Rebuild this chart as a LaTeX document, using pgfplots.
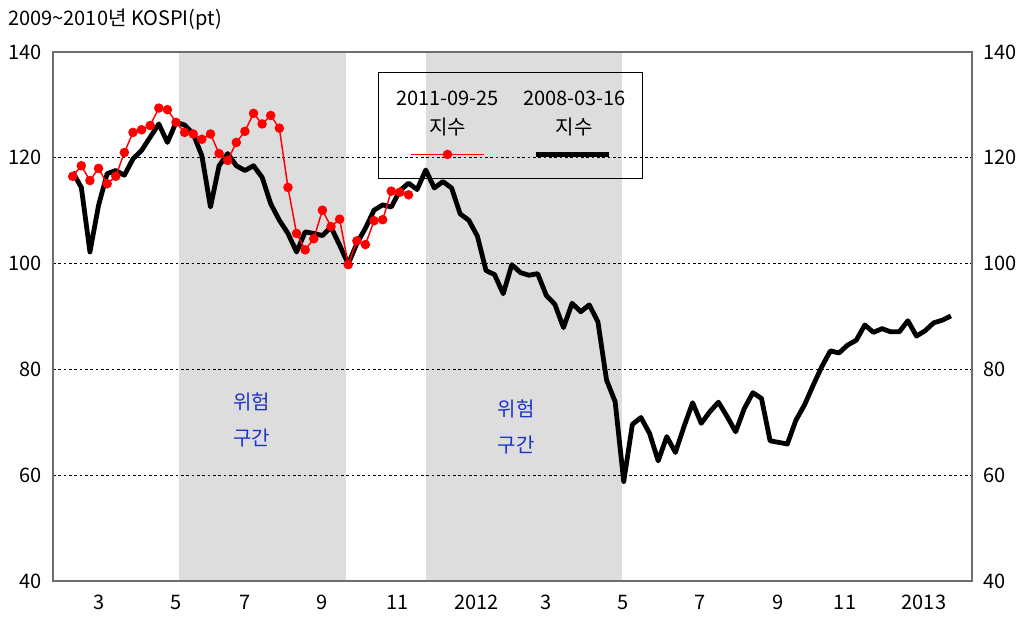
\documentclass[border=0pt]{standalone}
\usepackage{fontspec}
\setmainfont{Noto Sans CJK KR}
\usepackage{pgfplots}
\usepackage{pgfplotstable}
\pgfplotsset{compat=1.18}
\definecolor{shade}{RGB}{221,221,221}
\definecolor{riskblue}{RGB}{30,50,200}
\definecolor{framegray}{RGB}{110,110,110}

\pgfplotsset{
  blackleg/.style={legend image code/.code={\path (0pt,0pt);
    \draw[overlay,##1] (18.75pt,-21.75pt) -- (73.75pt,-21.75pt);}},
  redleg/.style={legend image code/.code={\path (0pt,0pt);
    \draw[overlay, mark repeat=2, mark phase=2, ##1] plot coordinates {(18.75pt,-21.75pt) (46.25pt,-21.75pt) (73.75pt,-21.75pt)};}},
}

% week index, index value (2008-03-16 aligned)
\pgfplotstableread{
w v
0 117.3
1 114.4
2 102.2
3 111.0
4 117.0
5 117.6
6 116.7
7 119.8
8 121.4
9 123.9
10 126.4
11 122.9
12 126.7
13 126.2
14 124.5
15 120.4
16 110.7
17 118.5
18 120.8
19 118.5
20 117.6
21 118.5
22 116.3
23 111.3
24 108.2
25 105.7
26 102.2
27 106.0
28 105.7
29 105.3
30 106.9
31 103.5
32 99.9
33 103.8
34 106.7
35 110.1
36 111.1
37 110.7
38 113.8
39 115.2
40 114.0
41 117.7
42 114.3
43 115.5
44 114.3
45 109.4
46 108.2
47 105.2
48 98.7
49 97.9
50 94.3
51 99.8
52 98.3
53 97.8
54 98.1
55 94.0
56 92.3
57 87.9
58 92.5
59 90.9
60 92.2
61 89.0
62 78.0
63 73.9
64 58.8
65 69.6
66 70.9
67 67.9
68 62.7
69 67.3
70 64.3
71 69.2
72 73.7
73 69.8
74 72.0
75 73.8
76 71.1
77 68.2
78 72.6
79 75.6
80 74.5
81 66.5
82 66.2
83 65.9
84 70.4
85 73.3
86 77.0
87 80.5
88 83.5
89 83.1
90 84.6
91 85.5
92 88.4
93 87.0
94 87.7
95 87.1
96 87.1
97 89.2
98 86.3
99 87.3
100 88.8
101 89.3
102 90.1
}\blackdata

% week index, index value (2011-09-25 aligned)
\pgfplotstableread{
w v
0 116.5
1 118.5
2 115.7
3 118.0
4 115.1
5 116.5
6 121.0
7 124.8
8 125.3
9 126.1
10 129.4
11 129.1
12 126.7
13 124.8
14 124.5
15 123.5
16 124.5
17 120.8
18 119.5
19 122.9
20 125.0
21 128.4
22 126.4
23 128.0
24 125.6
25 114.4
26 105.7
27 102.6
28 104.7
29 110.1
30 107.0
31 108.4
32 99.8
33 104.3
34 103.6
35 108.1
36 108.3
37 113.7
38 113.5
39 113.0
}\reddata

\begin{document}
\begin{tikzpicture}
\begin{axis}[
  set layers,
  at={(0pt,0pt)}, anchor=south west,
  width=689.25pt, height=396.75pt, scale only axis,
  xmin=-2.29, xmax=104.45, ymin=40, ymax=140,
  xtick={3.09,12.0,20.01,28.95,37.78,46.92,54.97,63.88,72.86,81.95,89.7,98.87},
  xticklabels={3,5,7,9,11,2012,3,5,7,9,11,2013},
  ytick={40,60,...,140},
  ymajorgrids,
  grid style={black, dash pattern=on 2pt off 2pt, line width=0.6pt},
  major tick length=0pt,
  axis line style={framegray, line width=0.9pt},
  tick label style={font=\fontsize{15}{18}\selectfont},
  /pgf/number format/assume math mode=true,
  yticklabel style={xshift=-5pt},
  xticklabel style={yshift=-7pt},
  reverse legend,
  legend columns=2,
  legend style={at={(axis description cs:0.3537,0.9628)}, anchor=north west,
    draw=black, line width=0.6pt, fill=none,
    inner xsep=5pt, inner ysep=7.9pt, column sep=0pt,
    cells={anchor=west, minimum width=91.5pt, inner sep=0pt},
    font=\fontsize{15}{21.75}\selectfont},
]
\addplot[fill=shade, draw=none, forget plot, on layer=axis background]
  coordinates {(12.35,40) (12.35,140) (31.75,140) (31.75,40)} -- cycle;
\addplot[fill=shade, draw=none, forget plot, on layer=axis background]
  coordinates {(41.04,40) (41.04,140) (63.8,140) (63.8,40)} -- cycle;

\addplot[black, line width=3.6pt, line join=round, mark=none, blackleg]
  table[x=w, y=v] {\blackdata};
\addlegendentry{\begin{tabular}[b]{@{}c@{}}2008-03-16\\지수\\ \mbox{}\end{tabular}}

\addplot[red, line width=1.1pt, mark=*, mark size=3pt,
  mark options={fill=red, draw=red, solid}, redleg]
  table[x=w, y=v] {\reddata};
\addlegendentry{\begin{tabular}[b]{@{}c@{}}2011-09-25\\지수\\ \mbox{}\end{tabular}}

\node[riskblue, align=center, font=\fontsize{15}{27}\selectfont] at (axis cs:20.8,70.4) {위험\\구간};
\node[riskblue, align=center, font=\fontsize{15}{27}\selectfont] at (axis cs:51.5,69.1) {위험\\구간};
\end{axis}

\begin{axis}[
  at={(0pt,0pt)}, anchor=south west,
  width=689.25pt, height=396.75pt, scale only axis,
  xmin=-2.29, xmax=104.45, ymin=40, ymax=140,
  ytick={40,60,...,140},
  axis y line*=right, axis x line=none,
  major tick length=0pt,
  axis line style={framegray, line width=0.9pt},
  tick label style={font=\fontsize{15}{18}\selectfont},
  /pgf/number format/assume math mode=true,
  yticklabel style={xshift=5pt},
]
\addplot[draw=none, forget plot] coordinates {(0,40) (100,140)};
\end{axis}

\node[anchor=west, inner sep=0pt, font=\fontsize{15}{18}\selectfont] at (-33.75pt,420.75pt) {2009{\char"7E}2010년 KOSPI(pt)};
\pgfresetboundingbox
\path[use as bounding box] (-39.75pt,-27pt) rectangle (727.5pt,435.75pt);
\end{tikzpicture}
\end{document}
